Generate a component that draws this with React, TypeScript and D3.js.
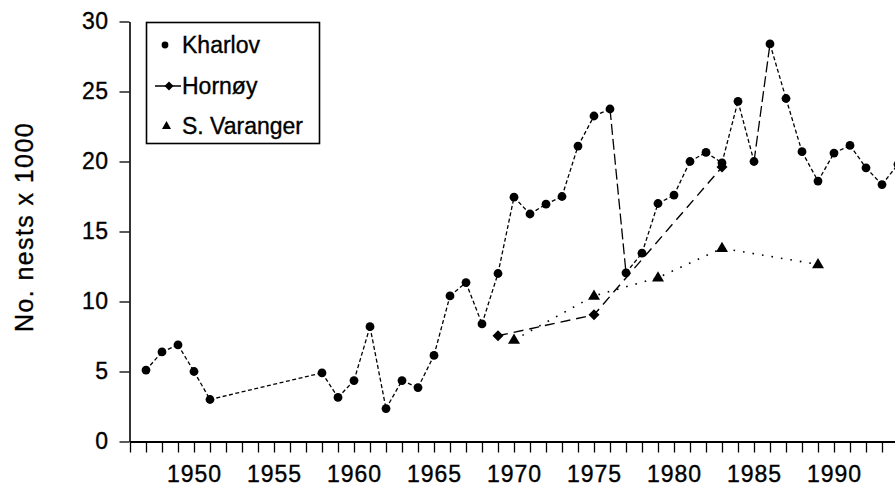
import React, { useRef, useEffect } from "react";
import * as d3 from "d3";

const WIDTH = 895;
const HEIGHT = 487;
const FONT = "'Liberation Sans', Arial, Helvetica, sans-serif";

// Kharlov colony
const kharlovYears = [
  1947, 1948, 1949, 1950, 1951, 1958, 1959, 1960, 1961, 1962, 1963, 1964,
  1965, 1966, 1967, 1968, 1969, 1970, 1971, 1972, 1973, 1974, 1975, 1976,
  1977, 1978, 1979, 1980, 1981, 1982, 1983, 1984, 1985, 1986, 1987, 1988,
  1989, 1990, 1991, 1992, 1993, 1994,
];
const kharlovNests = [
  5.1, 6.4, 6.9, 5.0, 3.0, 4.9, 3.15, 4.35, 8.2, 2.35, 4.35, 3.85, 6.15,
  10.4, 11.35, 8.4, 12.0, 17.45, 16.25, 16.95, 17.5, 21.1, 23.25, 23.75,
  12.05, 13.45, 17.0, 17.6, 20.0, 20.65, 19.9, 24.3, 20.0, 28.4, 24.5, 20.7,
  18.6, 20.6, 21.15, 19.55, 18.35, 19.8,
];

// Hornøy
const hornoyYears = [1969, 1975, 1983];
const hornoyNests = [7.55, 9.05, 19.6];

// S. Varanger
const varangerYears = [1970, 1975, 1979, 1983, 1989];
const varangerNests = [7.25, 10.4, 11.7, 13.8, 12.65];

const yTicks = [0, 5, 10, 15, 20, 25, 30];
const xTickYears = d3.range(1946, 1994);
const xLabelYears = [1950, 1955, 1960, 1965, 1970, 1975, 1980, 1985, 1990];
const legendLabels = ["Kharlov", "Hornøy", "S. Varanger"];

const DIAMOND = "M0,-5.5L5.5,0L0,5.5L-5.5,0Z";
const TRIANGLE = "M0,-6.5L6,3.8L-6,3.8Z";

export default function App() {
  const svgRef = useRef<SVGSVGElement>(null);

  useEffect(() => {
    const svg = d3.select(svgRef.current);
    svg.selectAll("*").remove();

    const x = d3.scaleLinear().domain([1946, 1994]).range([130, 898]);
    const y = d3.scaleLinear().domain([0, 30]).range([441.5, 21.5]);

    // Y axis
    const yAxis = d3
      .axisLeft(y)
      .tickValues(yTicks)
      .tickSize(10)
      .tickSizeOuter(0)
      .tickPadding(11)
      .tickFormat((d) => String(d));
    const gy = svg
      .append("g")
      .attr("transform", "translate(129.5,0)")
      .call(yAxis);
    gy.select(".domain").attr("stroke-width", 1.6);
    gy.selectAll(".tick line").attr("stroke-width", 1.3);
    gy.selectAll("text")
      .attr("font-family", FONT)
      .attr("font-size", 23)
      .attr("letter-spacing", 0.5)
      .attr("stroke", "#000")
      .attr("stroke-width", 0.35)
      .attr("fill", "#000");

    // X axis
    const xAxis = d3
      .axisBottom(x)
      .tickValues(xTickYears)
      .tickSize(11)
      .tickSizeOuter(0)
      .tickPadding(13)
      .tickFormat((d) => (xLabelYears.includes(d as number) ? String(d) : ""));
    const gx = svg
      .append("g")
      .attr("transform", "translate(0,441.5)")
      .call(xAxis);
    gx.select(".domain").attr("stroke-width", 1.8);
    gx.selectAll(".tick line").attr("stroke-width", 1.3);
    gx.selectAll("text")
      .attr("font-family", FONT)
      .attr("font-size", 23)
      .attr("letter-spacing", 0.9)
      .attr("stroke", "#000")
      .attr("stroke-width", 0.35)
      .attr("fill", "#000");

    // Y axis title
    svg
      .append("text")
      .attr("transform", `translate(33,227) rotate(-90)`)
      .attr("text-anchor", "middle")
      .attr("font-family", FONT)
      .attr("font-size", 25)
      .attr("letter-spacing", 1.4)
      .attr("stroke", "#000")
      .attr("stroke-width", 0.35)
      .text("No. nests x 1000");

    const kharlov = kharlovYears.map((yr, i) => [x(yr), y(kharlovNests[i])]);
    const hornoy = hornoyYears.map((yr, i) => [x(yr), y(hornoyNests[i])]);
    const varanger = varangerYears.map((yr, i) => [
      x(yr),
      y(varangerNests[i]),
    ]);

    const line = d3.line();

    // S. Varanger dotted
    svg
      .append("path")
      .attr("d", line(varanger as [number, number][]))
      .attr("fill", "none")
      .attr("stroke", "#000")
      .attr("stroke-width", 1.6)
      .attr("stroke-dasharray", "1.6,8");

    // Hornøy long dashes
    svg
      .append("path")
      .attr("d", line(hornoy as [number, number][]))
      .attr("fill", "none")
      .attr("stroke", "#000")
      .attr("stroke-width", 1.4)
      .attr("stroke-dasharray", "10,6");

    // Kharlov short dashes, longer on steep drops
    svg
      .append("g")
      .selectAll("line")
      .data(d3.pairs(kharlov))
      .join("line")
      .attr("x1", (d) => d[0][0])
      .attr("y1", (d) => d[0][1])
      .attr("x2", (d) => d[1][0])
      .attr("y2", (d) => d[1][1])
      .attr("stroke", "#000")
      .attr("stroke-width", 1.3)
      .attr("stroke-dasharray", (d) => {
        const slope = Math.abs(d[1][1] - d[0][1]) / Math.abs(d[1][0] - d[0][0]);
        return slope > 6 ? "11,4" : "4,2.5";
      });

    // markers
    svg
      .append("g")
      .selectAll("path")
      .data(varanger)
      .join("path")
      .attr("d", TRIANGLE)
      .attr("transform", (d) => `translate(${d[0]},${d[1]})`)
      .attr("fill", "#000");

    svg
      .append("g")
      .selectAll("path")
      .data(hornoy)
      .join("path")
      .attr("d", DIAMOND)
      .attr("transform", (d) => `translate(${d[0]},${d[1]})`)
      .attr("fill", "#000");

    svg
      .append("g")
      .selectAll("circle")
      .data(kharlov)
      .join("circle")
      .attr("cx", (d) => d[0])
      .attr("cy", (d) => d[1])
      .attr("r", 4.4)
      .attr("fill", "#000");

    // Legend
    const lg = svg.append("g");
    lg.append("rect")
      .attr("x", 146.5)
      .attr("y", 22.5)
      .attr("width", 173)
      .attr("height", 121)
      .attr("fill", "#fff")
      .attr("stroke", "#000")
      .attr("stroke-width", 1.6);

    const rowY = [45, 86, 126];
    lg.append("circle").attr("cx", 165).attr("cy", rowY[0]).attr("r", 3.4);
    lg.append("line")
      .attr("x1", 155)
      .attr("x2", 181)
      .attr("y1", rowY[1])
      .attr("y2", rowY[1])
      .attr("stroke", "#000")
      .attr("stroke-width", 1.3)
      .attr("stroke-dasharray", "11,5");
    lg.append("path")
      .attr("d", "M0,-4.5L4.5,0L0,4.5L-4.5,0Z")
      .attr("transform", `translate(169,${rowY[1]})`);
    lg.append("path")
      .attr("d", "M0,-5L4.5,3L-4.5,3Z")
      .attr("transform", `translate(166.5,${rowY[2]})`);

    lg.selectAll("text")
      .data(legendLabels)
      .join("text")
      .attr("x", 182)
      .attr("y", (_, i) => rowY[i])
      .attr("dy", "0.36em")
      .attr("font-family", FONT)
      .attr("font-size", 23)
      .attr("stroke", "#000")
      .attr("stroke-width", 0.35)
      .text((d) => d);
  }, []);

  return (
    <svg
      ref={svgRef}
      width={WIDTH}
      height={HEIGHT}
      style={{ position: "absolute", left: 0, top: 0, background: "#fff" }}
    />
  );
}
